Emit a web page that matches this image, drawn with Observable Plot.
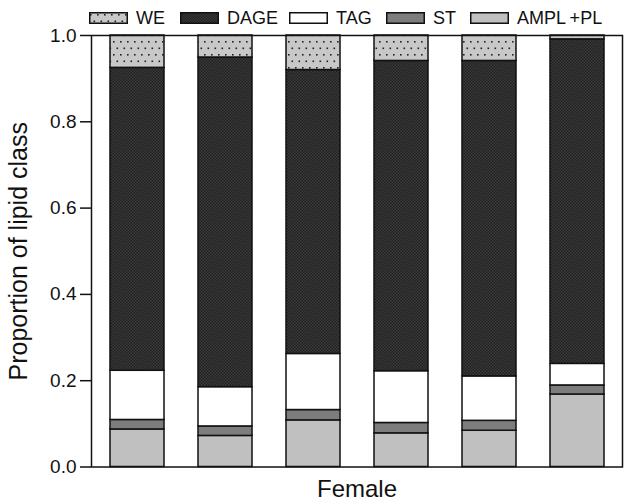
<!DOCTYPE html>
<html>
<head>
<meta charset="utf-8">
<script src="https://cdn.jsdelivr.net/npm/d3@7"></script>
<script src="https://cdn.jsdelivr.net/npm/@observablehq/plot@0.6"></script>
<style>
  html, body { margin: 0; padding: 0; background: #fff; }
  body { width: 624px; height: 501px; overflow: hidden; position: relative; font-family: "Liberation Sans", Arial, Helvetica, sans-serif; }
  #legend { position: absolute; left: 0; top: 0; width: 624px; height: 30px; z-index: 2; }
  #legend .item { position: absolute; top: 8px; display: flex; align-items: center; font-size: 18px; color: #111; line-height: 20px; }
  #legend svg { margin-right: 8px; }
  #chart { position: absolute; left: 0; top: 0; }
</style>
</head>
<body>
<svg width="0" height="0" style="position:absolute">
  <defs>
    <pattern id="pat-we" patternUnits="userSpaceOnUse" width="7" height="13">
      <rect width="7" height="13" fill="#c8c8c8"></rect>
      <rect x="1" y="2" width="1.6" height="1.6" fill="#222"></rect>
      <rect x="4.5" y="8.5" width="1.6" height="1.6" fill="#222"></rect>
    </pattern>
    <pattern id="pat-dage" patternUnits="userSpaceOnUse" width="3" height="3">
      <rect width="3" height="3" fill="#1f1f1f"></rect>
      <rect x="0" y="0" width="1.5" height="1.5" fill="#3c3c3c"></rect>
      <rect x="1.5" y="1.5" width="1.5" height="1.5" fill="#3c3c3c"></rect>
    </pattern>
  </defs>
</svg>
<div id="chart"></div>
<div id="legend"></div>
<script>
// Samples (individual females) and lipid classes, bottom to top
const samples = ["1", "2", "3", "4", "5", "6"];
const classes = ["AMPL +PL", "ST", "TAG", "DAGE", "WE"];
const legendOrder = ["WE", "DAGE", "TAG", "ST", "AMPL +PL"];
const legendLabels = ["WE", "DAGE", "TAG", "ST", "AMPL\u2009+PL"];

// Proportions per class for each sample
const amplpl = [0.087, 0.072, 0.108, 0.078, 0.084, 0.168];
const st     = [0.022, 0.022, 0.024, 0.024, 0.023, 0.021];
const tag    = [0.114, 0.091, 0.130, 0.120, 0.103, 0.050];
const dage   = [0.702, 0.764, 0.658, 0.719, 0.731, 0.752];
const we     = [0.075, 0.051, 0.080, 0.059, 0.059, 0.009];

const yTicks = [0, 0.2, 0.4, 0.6, 0.8, 1.0];

const fills = {
  "AMPL +PL": "#c0c0c0",
  "ST": "#7d7d7d",
  "TAG": "#ffffff",
  "DAGE": "url(#pat-dage)",
  "WE": "url(#pat-we)"
};

const series = [amplpl, st, tag, dage, we];
const data = [];
samples.forEach((s, i) => {
  classes.forEach((c, k) => data.push({sample: s, cls: c, value: series[k][i]}));
});

const chart = Plot.plot({
  width: 624,
  height: 501,
  marginTop: 35,
  marginBottom: 34.5,
  marginLeft: 91,
  marginRight: 2,
  style: {fontFamily: "'Liberation Sans', Arial, Helvetica, sans-serif", fontSize: "19px", color: "#111", overflow: "visible"},
  x: {domain: samples, paddingInner: 0.39, paddingOuter: 0.2, axis: null},
  y: {domain: [0, 1], axis: null},
  color: {type: "ordinal", domain: classes, range: classes.map(c => fills[c])},
  marks: [
    Plot.barY(data, Plot.stackY({
      x: "sample", y: "value", fill: "cls", order: null,
      stroke: "#111", strokeWidth: 1.5
    })),
    Plot.frame({stroke: "#111", strokeWidth: 1.5}),
    Plot.axisY(yTicks, {
      tickFormat: d3.format(".1f"), tickSize: 11, tickPadding: 4,
      strokeWidth: 1.5, fontSize: 19,
      label: "Proportion of lipid class", labelAnchor: "center", labelArrow: "none",
      labelOffset: 82
    }),
    Plot.axisX({
      ticks: [], tickSize: 0, label: "Female", labelAnchor: "center", labelArrow: "none",
      labelOffset: 30
    })
  ]
});
document.getElementById("chart").appendChild(chart);
// enlarge axis titles
d3.select(chart).selectAll("g[aria-label='y-axis label']").attr("font-size", 25);
d3.select(chart).selectAll("g[aria-label='x-axis label']").attr("font-size", 24);

// Legend
const legendX = [89, 180, 289, 386, 470];
const legend = document.getElementById("legend");
legendOrder.forEach((c, i) => {
  const item = document.createElement("div");
  item.className = "item";
  item.style.left = legendX[i] + "px";
  item.innerHTML = `<svg width="39" height="12"><rect x="0.75" y="0.75" width="37.5" height="10.5" fill="${fills[c]}" stroke="#111" stroke-width="1.5"></rect></svg><span>${legendLabels[i]}</span>`;
  legend.appendChild(item);
});
</script>
</body>
</html>
